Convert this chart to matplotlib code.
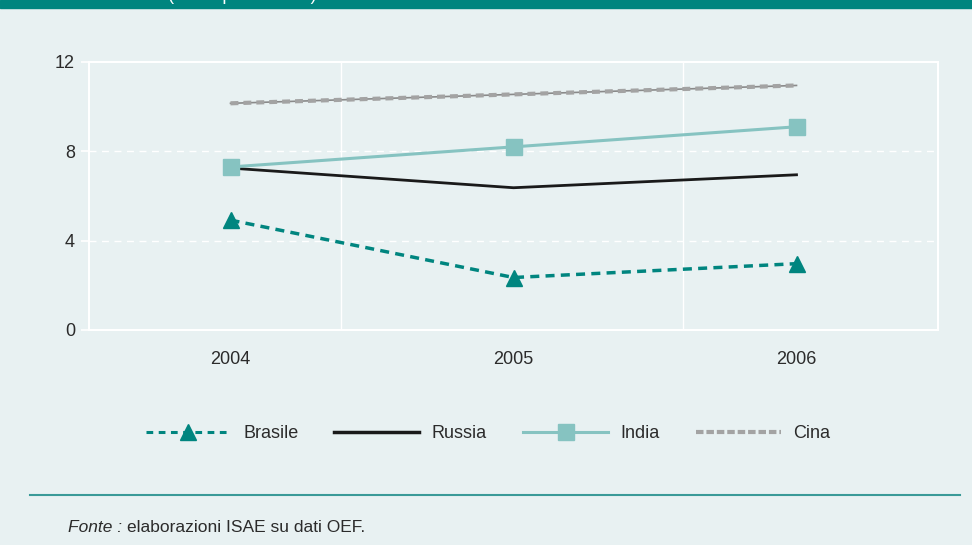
import matplotlib.pyplot as plt
from matplotlib.lines import Line2D
from matplotlib.patches import Rectangle

plt.rcParams['font.family'] = ['Liberation Sans', 'DejaVu Sans']

# Data
years = [2004, 2005, 2006]
brasile = [4.92, 2.35, 2.97]
russia = [7.25, 6.37, 6.95]
india = [7.3, 8.2, 9.1]
cina = [10.15, 10.55, 10.95]
yticks = [0, 4, 8, 12]
vgrid = [2004.39, 2005.6]

bg = '#E8F1F2'
teal = '#00857F'
light_teal = '#86C3C1'
gray = '#A3A3A3'
txt = '#2b2b2b'

fig = plt.figure(figsize=(9.72, 5.45), dpi=100, facecolor=bg)

# Title band: only the bottom of the title shows, as in the source
band = Rectangle((0, 1 - 8 / 545), 1, 8 / 545, transform=fig.transFigure,
                 color=teal, zorder=0)
fig.add_artist(band)
title = fig.text(168 / 972, 1 + 0.5 / 545, '(valori percentuali)', color='white',
                 fontsize=13, va='baseline', ha='left')
title.set_clip_path(band)

ax = fig.add_axes([89 / 972, 1 - 330 / 545, (938 - 89) / 972, (330 - 62) / 545])
ax.set_facecolor(bg)

# Grid
for v in vgrid:
    ax.axvline(v, color='white', lw=1, zorder=1)
for y in [4, 8]:
    ax.axhline(y, color='white', lw=1, ls=(0, (5, 4)), zorder=1)

ax.plot(years, cina, color='#8a8a8a', lw=1.2, zorder=3)
ax.plot(years, cina, color=gray, lw=3, ls=(0, (1.9, 1.2)), zorder=3)
ax.plot(years, russia, color='#1a1a1a', lw=2, zorder=3)
ax.plot(years, india, color=light_teal, lw=2.2, marker='s', ms=12,
        mec=light_teal, zorder=4)
ax.plot(years, brasile, color=teal, lw=2.5, ls=(0, (2.6, 1.8)), marker='^',
        ms=11, zorder=4)

ax.set_xlim(2003.5, 2006.5)
ax.set_ylim(0, 12)
ax.set_xticks(years)
ax.set_yticks(yticks)
ax.tick_params(axis='x', length=0, pad=15, labelsize=13, labelcolor=txt)
ax.tick_params(axis='y', length=6, width=1.2, color='white', pad=4,
               labelsize=13, labelcolor=txt)
for s in ax.spines.values():
    s.set_color('white')
    s.set_linewidth(1.5)

# Legend
handles = [
    Line2D([], [], color=teal, lw=2.2, ls=(0, (2.2, 1.8)), marker='^', ms=11),
    Line2D([], [], color='#1a1a1a', lw=2.5),
    Line2D([], [], color=light_teal, lw=2.2, marker='s', ms=12),
    Line2D([], [], color=gray, lw=3, ls=(0, (1.8, 0.7))),
]
fig.legend(handles, ['Brasile', 'Russia', 'India', 'Cina'], loc='center',
           bbox_to_anchor=(488 / 972, 1 - 434 / 545), ncol=4, frameon=False,
           fontsize=13, handlelength=4.7, columnspacing=2.0, handletextpad=0.7,
           labelcolor=txt)

# Separator and source
fig.add_artist(Line2D([30 / 972, 960 / 972], [1 - 495 / 545] * 2,
                      color='#3a9a98', lw=1.5))
fig.text(68 / 972, 1 - 528 / 545, 'Fonte :', fontsize=12.5, style='italic',
         color=txt, va='center')
fig.text(127 / 972, 1 - 528 / 545, 'elaborazioni ISAE su dati OEF.',
         fontsize=12.5, color=txt, va='center')

fig.savefig('out.png', dpi=100, facecolor=bg)
